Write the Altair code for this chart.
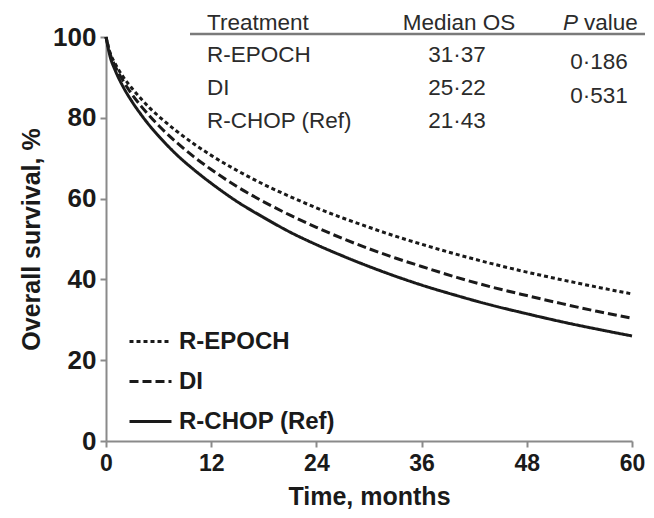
import altair as alt
import pandas as pd

# ---- data ----
months = [0, 0.5, 1, 2, 3, 4, 5, 6, 8, 10, 12, 15, 18, 21, 24, 27, 30, 33, 36, 40, 44, 48, 52, 56, 60]
r_epoch = [100, 95.9, 93.6, 90.0, 87.2, 84.7, 82.4, 80.4, 76.8, 73.6, 70.7, 66.9, 63.5, 60.5, 57.7,
           55.2, 52.9, 50.7, 48.7, 46.2, 43.9, 41.8, 39.9, 38.1, 36.4]
di = [100, 95.6, 93.0, 89.0, 85.7, 82.9, 80.4, 78.1, 74.0, 70.4, 67.2, 62.9, 59.2, 55.9, 52.9,
      50.1, 47.6, 45.3, 43.2, 40.5, 38.1, 36.0, 34.0, 32.1, 30.4]
r_chop = [100, 94.9, 92.0, 87.5, 83.9, 80.8, 78.0, 75.5, 71.0, 67.2, 63.8, 59.2, 55.3, 51.7, 48.6,
          45.8, 43.2, 40.8, 38.6, 36.0, 33.6, 31.5, 29.5, 27.7, 26.0]

treatments = ["R-EPOCH", "DI", "R-CHOP (Ref)"]
median_os = ["31·37", "25·22", "21·43"]
p_values = ["0·186", "0·531"]
x_ticks = [0, 12, 24, 36, 48, 60]
y_ticks = [0, 20, 40, 60, 80, 100]

FONT = "Liberation Sans"
INK = "#1a1a1a"

rows = []
for name, series in zip(treatments, [r_epoch, di, r_chop]):
    for t, v in zip(months, series):
        rows.append({"month": t, "survival": v, "treatment": name})
df = pd.DataFrame(rows)

lines = alt.Chart(df).mark_line(strokeWidth=3, color=INK, interpolate="monotone").encode(
    x=alt.X("month:Q", scale=alt.Scale(domain=[0, 60], nice=False),
            axis=alt.Axis(values=x_ticks, title="Time, months", grid=False, labelFlush=False,
                          domainColor="#8a8a8a", domainWidth=2, tickColor="#8a8a8a", tickWidth=2,
                          tickSize=6, labelFontSize=23, labelFont=FONT, labelFontWeight="bold",
                          labelColor=INK, labelPadding=5, titleFontSize=25, titleFont=FONT,
                          titleFontWeight="bold", titleColor=INK, titlePadding=9)),
    y=alt.Y("survival:Q", scale=alt.Scale(domain=[0, 100], nice=False),
            axis=alt.Axis(values=y_ticks, title="Overall survival, %", grid=False, labelFlush=False,
                          domainColor="#8a8a8a", domainWidth=2, tickColor="#8a8a8a", tickWidth=2,
                          tickSize=6, labelFontSize=26, labelFont=FONT, labelFontWeight="bold",
                          labelColor=INK, labelPadding=4, titleFontSize=25, titleFont=FONT,
                          titleFontWeight="bold", titleColor=INK, titlePadding=8)),
    strokeDash=alt.StrokeDash("treatment:N",
        scale=alt.Scale(domain=treatments, range=[[4, 3], [9, 4], [1, 0]]),
        legend=alt.Legend(orient="none", legendX=22, legendY=282, title=None,
                          symbolType="stroke", symbolSize=1764, symbolStrokeWidth=3,
                          symbolStrokeColor=INK, labelFontSize=24, labelFont=FONT,
                          labelFontWeight="bold", labelColor=INK, rowPadding=5,
                          labelOffset=6, padding=0)),
    order="month:Q",
)

# ---- summary table at the top ----
layers = [lines]
TXT = "#2b2b2b"

def text(label, x, y, align="left", italic=False):
    return alt.Chart(pd.DataFrame({"t": [label]})).mark_text(
        font=FONT, fontSize=22.5, color=TXT, align=align, baseline="middle",
        fontStyle="italic" if italic else "normal").encode(
        text="t:N", x=alt.value(x), y=alt.value(y))

# header (positions relative to plot origin)
layers.append(text("Treatment", 101, -14))
layers.append(text("Median OS", 353, -14, align="center"))
layers.append(text("P", 457, -14, italic=True))
layers.append(text("value", 478, -14))
row_y = [18, 51, 84]
for name, med, y in zip(treatments, median_os, row_y):
    layers.append(text(name, 101, y))
    layers.append(text(med, 351, y, align="center"))
p_y = [25, 59]
for p, y in zip(p_values, p_y):
    layers.append(text(p, 493, y, align="center"))

rule = alt.Chart(pd.DataFrame({"a": [0]})).mark_rule(color="#7a7a7a", strokeWidth=2.5).encode(
    x=alt.value(84), x2=alt.value(539), y=alt.value(-3))
layers.append(rule)

chart = alt.layer(*layers).properties(
    width=526, height=404,
    autosize=alt.AutoSizeParams(type="none"),
    padding={"left": 98, "top": 29, "right": 13, "bottom": 72},
).configure_view(stroke=None)

chart.save("out.html", embed_options={"renderer": "svg", "actions": False})
